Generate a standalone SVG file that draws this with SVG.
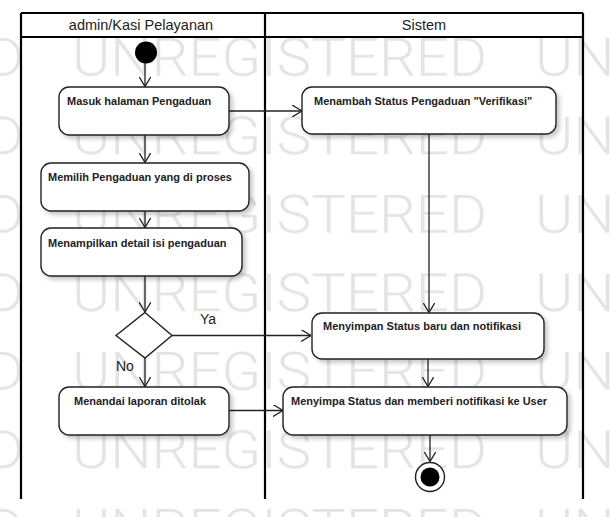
<svg xmlns="http://www.w3.org/2000/svg" xmlns:xlink="http://www.w3.org/1999/xlink" width="612" height="517" viewBox="0 0 612 517">
<style>
.frame{fill:none;stroke:#000;stroke-width:2.2}
.box{fill:#fff;stroke:#222;stroke-width:1.4}
.lbl{font-family:"Liberation Sans",Arial,sans-serif;font-size:11px;font-weight:bold;fill:#222}
.hdr{font-family:"Liberation Sans",Arial,sans-serif;font-size:14.5px;fill:#222}
.guard{font-family:"Liberation Sans",Arial,sans-serif;font-size:14px;fill:#222}
.edge{fill:none;stroke:#222;stroke-width:1.3}
.wm{font-family:Roboto,"Liberation Sans",sans-serif;font-weight:300;font-size:53px;fill:#e4e4e4}
</style>
<defs>
<marker id="arr" viewBox="0 0 10 12" refX="10" refY="6" markerWidth="10" markerHeight="12" markerUnits="userSpaceOnUse" orient="auto">
<path d="M0,0 L10,6 L0,12" fill="none" stroke="#222" stroke-width="1.3"/>
</marker>
<filter id="sh" x="-10%" y="-20%" width="130%" height="160%">
<feDropShadow dx="3" dy="3" stdDeviation="2" flood-color="#000" flood-opacity="0.22"/>
</filter>
<pattern id="wmp" patternUnits="userSpaceOnUse" x="72" y="30" width="463" height="78.5">
<text class="wm" x="0" y="46" textLength="415" lengthAdjust="spacingAndGlyphs">UNREGISTERED</text>
</pattern>
</defs>
<rect width="612" height="517" fill="#fff"/>
<rect id="watermark" width="612" height="517" fill="url(#wmp)"/>

<g id="swimlanes">
<path class="frame" d="M21,13 H583 M21,37 H583 M21,13 V499 M265,13 V499 M583,13 V499"/>
<text class="hdr" x="141" y="30" text-anchor="middle">admin/Kasi Pelayanan</text>
<text class="hdr" x="424" y="30" text-anchor="middle">Sistem</text>
</g>

<g id="connectors">
<path class="edge" d="M145,63 V86.5" marker-end="url(#arr)"/>
<path class="edge" d="M229,111 H302" marker-end="url(#arr)"/>
<path class="edge" d="M145,135 V162.5" marker-end="url(#arr)"/>
<path class="edge" d="M145,211 V227.5" marker-end="url(#arr)"/>
<path class="edge" d="M145,276 V312" marker-end="url(#arr)"/>
<path class="edge" d="M172,335.5 H311" marker-end="url(#arr)"/>
<text class="guard" x="200" y="324">Ya</text>
<path class="edge" d="M145,358 V386.5" marker-end="url(#arr)"/>
<text class="guard" x="116" y="371">No</text>
<path class="edge" d="M229,410.5 H283" marker-end="url(#arr)"/>
<path class="edge" d="M429,134 V312.5" marker-end="url(#arr)"/>
<path class="edge" d="M428,359 V386.5" marker-end="url(#arr)"/>
<path class="edge" d="M430,435 V461.5" marker-end="url(#arr)"/>
</g>

<g id="start">
<circle cx="146" cy="52.5" r="11" fill="#000"/>
</g>

<g id="n1">
<rect class="box" filter="url(#sh)" x="59" y="87" width="170" height="48" rx="10"/>
<text class="lbl" x="67" y="105">Masuk halaman Pengaduan</text>
</g>

<g id="n2">
<rect class="box" filter="url(#sh)" x="302" y="87" width="254" height="47" rx="10"/>
<text class="lbl" x="314" y="105">Menambah Status Pengaduan "Verifikasi"</text>
</g>

<g id="n3">
<rect class="box" filter="url(#sh)" x="41" y="163" width="208" height="48" rx="10"/>
<text class="lbl" x="48" y="181">Memilih Pengaduan yang di proses</text>
</g>

<g id="n4">
<rect class="box" filter="url(#sh)" x="41" y="228" width="201" height="48" rx="10"/>
<text class="lbl" x="48" y="247">Menampilkan detail isi pengaduan</text>
</g>

<g id="decision">
<polygon class="box" points="145,312.5 172,335.5 145,358 116,335.5"/>
</g>

<g id="n5">
<rect class="box" filter="url(#sh)" x="312" y="313" width="232" height="46" rx="10"/>
<text class="lbl" x="323" y="330">Menyimpan Status baru dan notifikasi</text>
</g>

<g id="n6">
<rect class="box" filter="url(#sh)" x="59" y="387" width="170" height="48" rx="10"/>
<text class="lbl" x="74" y="405">Menandai laporan ditolak</text>
</g>

<g id="n7">
<rect class="box" filter="url(#sh)" x="283" y="387" width="284" height="48" rx="10"/>
<text class="lbl" x="291" y="405">Menyimpa Status dan memberi notifikasi ke User</text>
</g>

<g id="end">
<circle cx="430" cy="477" r="14.5" fill="#fff" stroke="#222" stroke-width="1.4"/>
<circle cx="430" cy="477" r="9.5" fill="#000"/>
</g>
</svg>
